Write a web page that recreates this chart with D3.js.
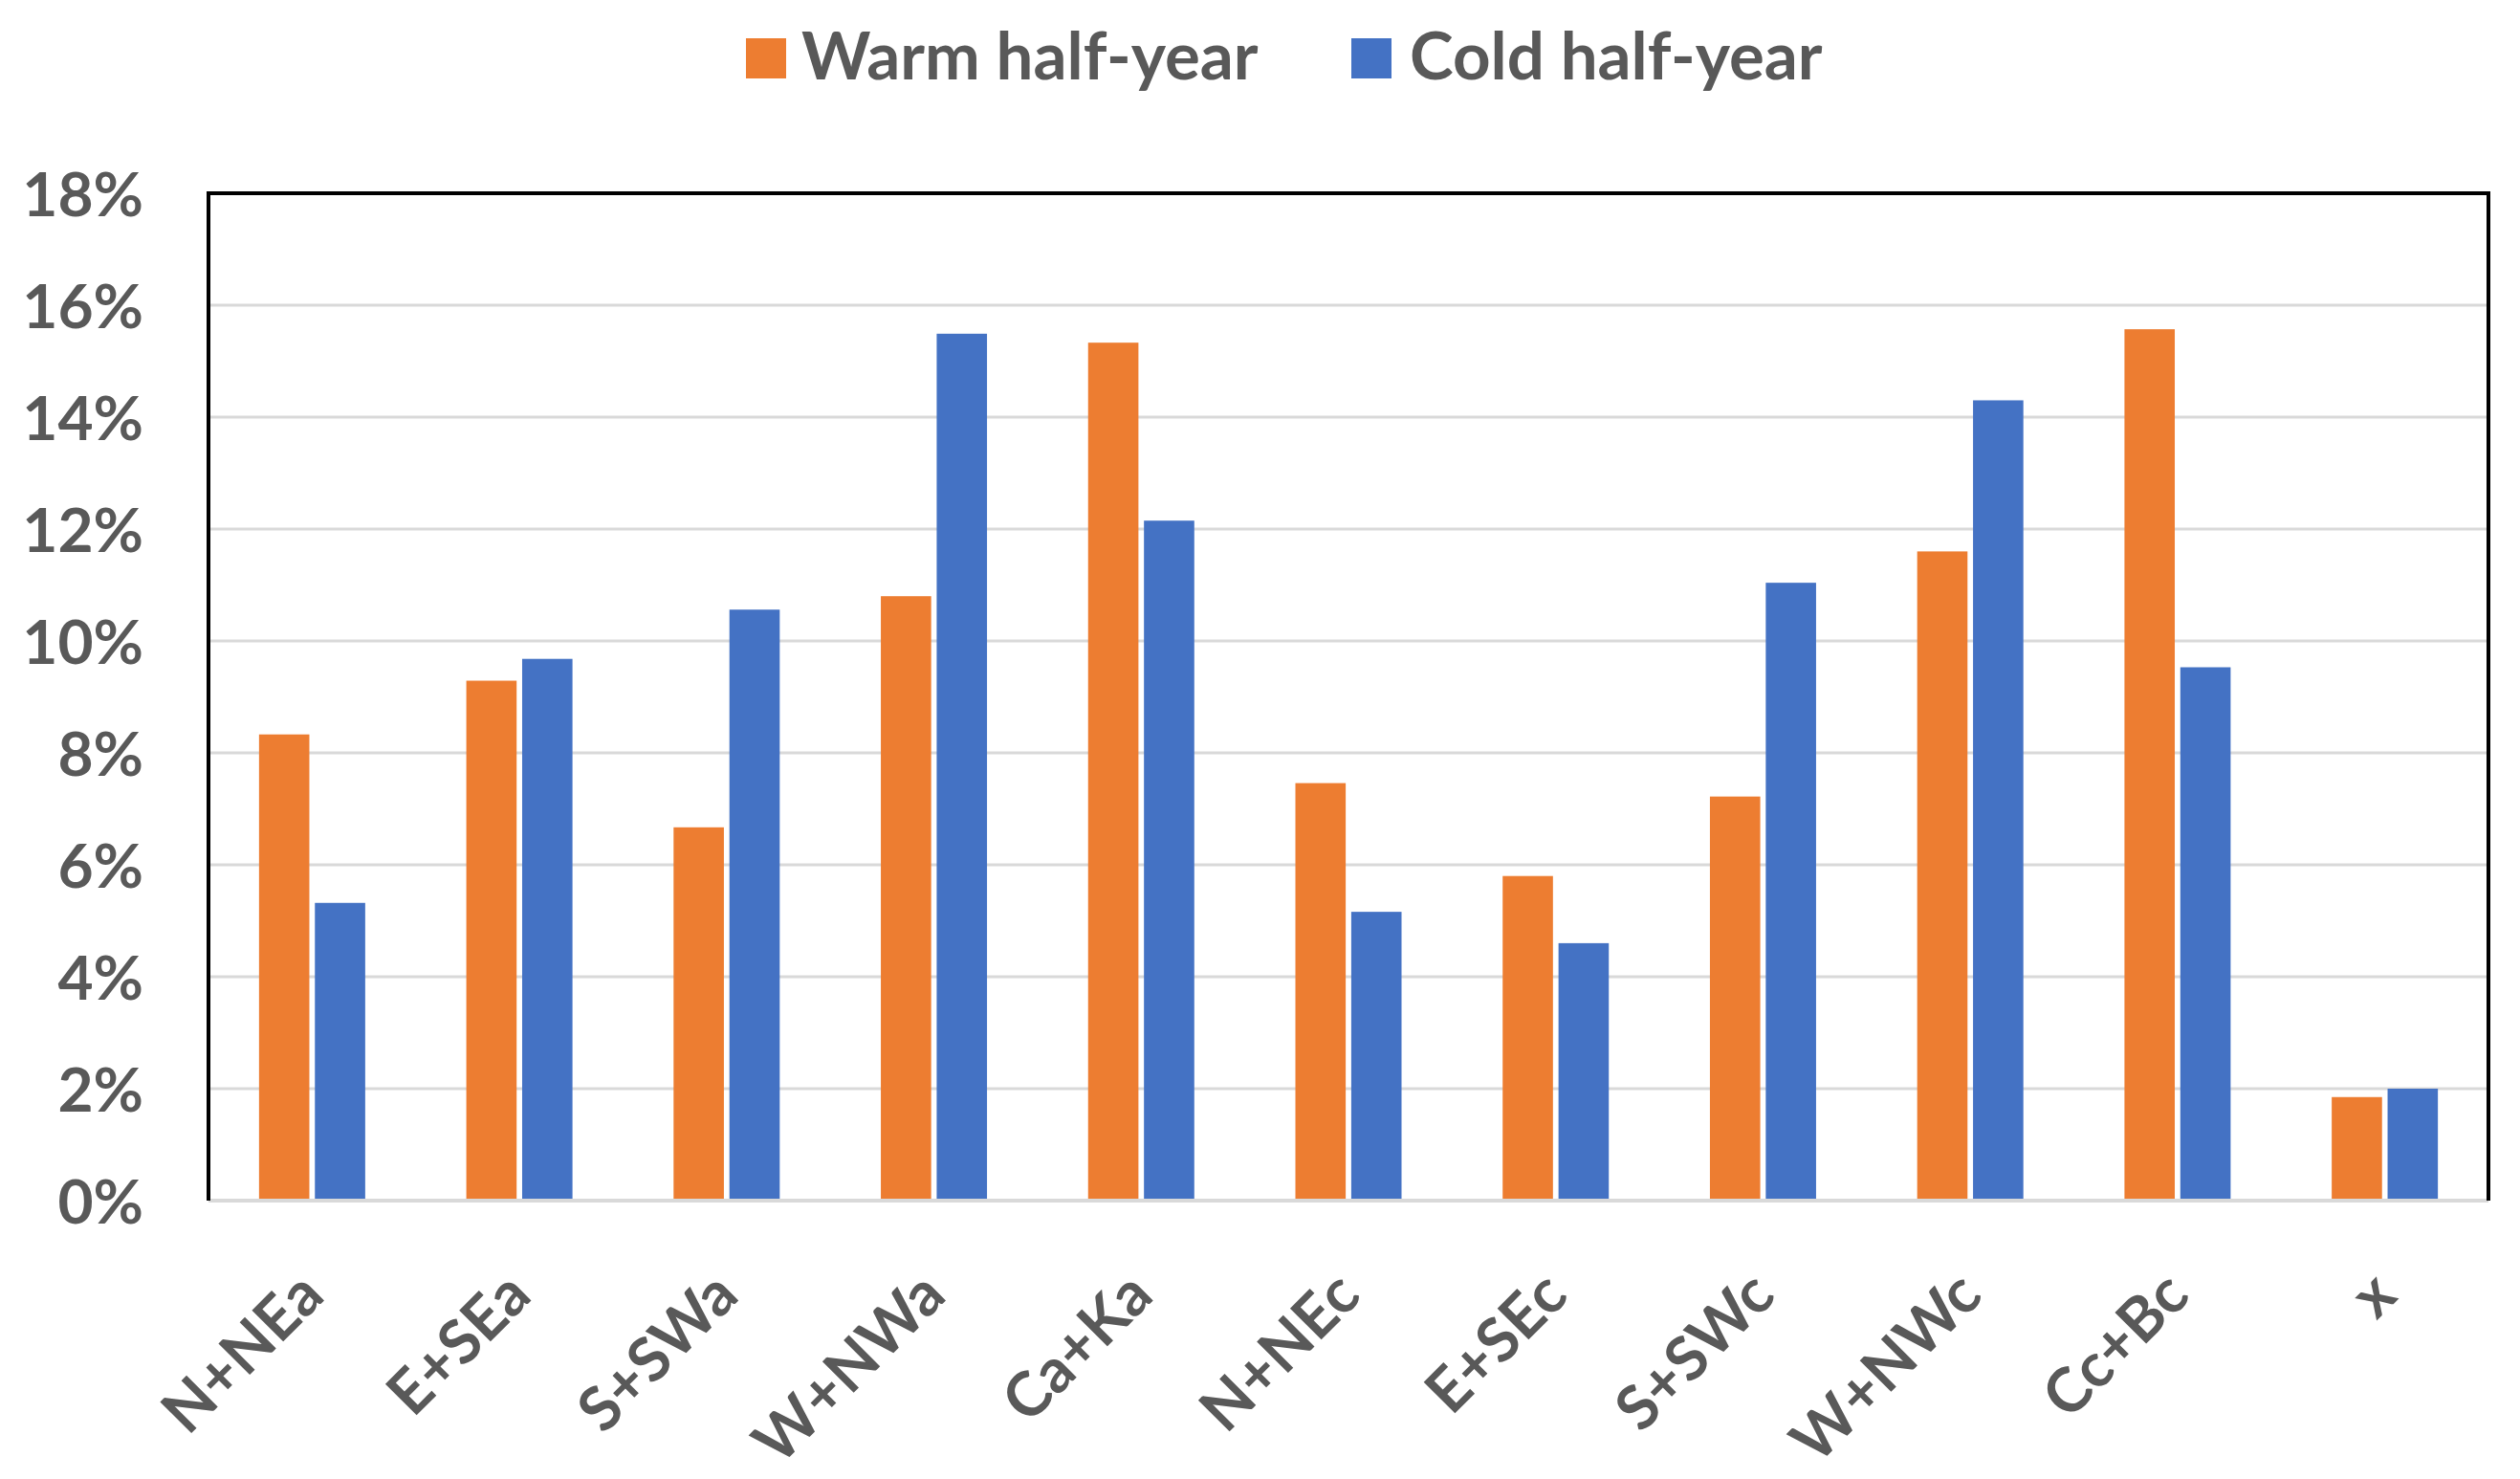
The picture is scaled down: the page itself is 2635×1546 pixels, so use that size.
<!DOCTYPE html>
<html>
<head>
<meta charset="utf-8">
<script src="https://cdn.jsdelivr.net/npm/d3@7"></script>
<style>
  html, body { margin: 0; padding: 0; background: #ffffff; }
  svg { display: block; }
</style>
</head>
<body>
<svg id="chart" width="2635" height="1546"></svg>
<script>
const categories = ["N+NEa", "E+SEa", "S+SWa", "W+NWa", "Ca+Ka", "N+NEc", "E+SEc", "S+SWc", "W+NWc", "Cc+Bc", "x"];
const seriesNames = ["Warm half-year", "Cold half-year"];
const warmValues = [0.0833, 0.0929, 0.0667, 0.1080, 0.1533, 0.0746, 0.0580, 0.0722, 0.1160, 0.1557, 0.0185];
const coldValues = [0.0532, 0.0968, 0.1056, 0.1549, 0.1215, 0.0516, 0.0460, 0.1104, 0.1430, 0.0953, 0.0200];
const yTicks = [0, 0.02, 0.04, 0.06, 0.08, 0.10, 0.12, 0.14, 0.16, 0.18];
const colors = ["#ED7D31", "#4472C4"];

const svg = d3.select("#chart");
const FONT = "Lato, 'Open Sans', sans-serif";
const TEXT = "#595959";

const plot = { left: 218, right: 2602, top: 202, bottom: 1255 };

const x = d3.scaleBand().domain(categories).range([plot.left, plot.right]).padding(0);
const y = d3.scaleLinear().domain([0, 0.18]).range([plot.bottom, plot.top]);

const barW = 50, innerGap = 11;
const sub = d3.scaleBand().domain(seriesNames).range([-(barW + innerGap / 2), barW + innerGap / 2]).paddingInner(innerGap / (2 * barW + innerGap)).paddingOuter(0);

// gridlines
svg.append("g").selectAll("line").data(yTicks.filter(d => d > 0 && d < 0.18)).join("line")
  .attr("x1", plot.left).attr("x2", plot.right)
  .attr("y1", d => y(d)).attr("y2", d => y(d))
  .attr("stroke", "#D9D9D9").attr("stroke-width", 3);

// bars
const data = categories.map((c, i) => ({ c, vals: [warmValues[i], coldValues[i]] }));
const groups = svg.append("g").selectAll("g").data(data).join("g")
  .attr("transform", d => `translate(${x(d.c) + x.bandwidth() / 2},0)`);
groups.selectAll("rect").data(d => d.vals.map((v, k) => ({ v, k }))).join("rect")
  .attr("x", d => sub(seriesNames[d.k]))
  .attr("width", sub.bandwidth())
  .attr("y", d => y(d.v))
  .attr("height", d => y(0) - y(d.v))
  .attr("fill", d => colors[d.k]);

// bottom axis line
svg.append("line")
  .attr("x1", plot.left).attr("x2", plot.right)
  .attr("y1", y(0)).attr("y2", y(0))
  .attr("stroke", "#D9D9D9").attr("stroke-width", 4);

// plot border (top, left, right)
svg.append("path")
  .attr("d", `M${plot.left},${plot.bottom} L${plot.left},${plot.top} L${plot.right},${plot.top} L${plot.right},${plot.bottom}`)
  .attr("fill", "none").attr("stroke", "#000").attr("stroke-width", 4);

// y axis labels
const yAxis = d3.axisLeft(y).tickValues(yTicks).tickFormat(d3.format(".0%")).tickSize(0).tickPadding(0);
const yg = svg.append("g").attr("transform", `translate(150,0)`).call(yAxis);
yg.select(".domain").remove();
yg.selectAll("text")
  .attr("font-family", FONT).attr("font-weight", "bold").attr("font-size", 64)
  .attr("fill", TEXT).attr("dy", "0.36em");

// x axis labels
const xAxis = d3.axisBottom(x).tickSize(0).tickPadding(0);
const xg = svg.append("g").attr("transform", `translate(0,${plot.bottom})`).call(xAxis);
xg.select(".domain").remove();
xg.selectAll(".tick text")
  .attr("font-family", FONT).attr("font-weight", "bold").attr("font-size", 64)
  .attr("fill", TEXT)
  .attr("text-anchor", "end")
  .attr("y", 0).attr("dy", 0)
  .attr("transform", "translate(15,102) rotate(-45)");

// legend
const legendItems = [
  { name: seriesNames[0], color: colors[0], rx: 780, tx: 838 },
  { name: seriesNames[1], color: colors[1], rx: 1413, tx: 1474 }
];
const lg = svg.append("g");
legendItems.forEach(it => {
  lg.append("rect").attr("x", it.rx).attr("y", 40).attr("width", 42).attr("height", 42).attr("fill", it.color);
  lg.append("text").attr("x", it.tx).attr("y", 83)
    .attr("font-family", FONT).attr("font-weight", "bold").attr("font-size", 69)
    .attr("fill", TEXT).text(it.name);
});
</script>
</body>
</html>
